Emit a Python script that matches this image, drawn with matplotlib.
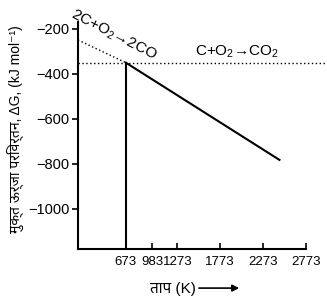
import matplotlib
matplotlib.use("Agg")
import matplotlib.pyplot as plt
from matplotlib import font_manager as fm
from matplotlib.ft2font import FT2Font

# ---- data ----
x_ticks = [673, 983, 1273, 1773, 2273, 2773]
y_ticks = [-200, -400, -600, -800, -1000]
y_tick_labels = ["−200", "−400", "−600", "−800", "−1000"]

co_x = [115, 673]          # 2C + O2 -> 2CO (dotted part)
co_y = [-249, -350]
co2_x = [115, 3000]        # C + O2 -> CO2 (dotted horizontal)
co2_y = [-350, -350]
solid_x = [673, 2463]      # solid line
solid_y = [-350, -782]
vert_x = [673, 673]
vert_y = [-350, -1178]

ylabel_text = "मुक्त ऊर्जा परिवर्तन, ΔG, (kJ mol⁻¹)"
xlabel_text = "ताप (K)"

need = set(ch for ch in ylabel_text + xlabel_text if 0x0900 <= ord(ch) <= 0x097F)
cands = {}
for f in fm.findSystemFonts():
    try:
        ft = FT2Font(f)
        cm = ft.get_charmap()
        if all(ord(c) in cm for c in need):
            name = fm.FontProperties(fname=f).get_name()
            if name not in cands:
                fm.fontManager.addfont(f)
                cands[name] = f
    except Exception:
        pass
pref = ['Noto Sans Devanagari', 'Hind', 'Mukta', 'Lohit Devanagari', 'FreeSans',
        'Yantramanav', 'Poppins', 'Sarala']
deva = None
for p in pref:
    if p in cands:
        deva = p
        break
if deva is None and cands:
    deva = sorted(cands, key=lambda n: ('Mono' in n, 'Unifont' in n, n))[0]

plt.rcParams['font.family'] = ['Liberation Sans', 'DejaVu Sans']
plt.rcParams['mathtext.fontset'] = 'custom'
plt.rcParams['mathtext.rm'] = 'Liberation Sans'
plt.rcParams['mathtext.it'] = 'Liberation Sans:italic'
lab_family = ['Liberation Sans'] + ([deva] if deva else []) + ['DejaVu Sans']

fig = plt.figure(figsize=(3.27, 2.97), dpi=100)
ax = fig.add_axes([0.2385, 0.1616, 0.936 - 0.2385, 0.926 - 0.1616])
ax.set_xlim(115, 2773)
ax.set_ylim(-1178, -169)

ax.plot(co_x, co_y, color='black', lw=1.0, ls=(0, (1, 1.8)))
ax.plot(co2_x, co2_y, color='black', lw=1.0, ls=(0, (1, 1.8)), clip_on=False)
ax.plot(solid_x, solid_y, color='black', lw=1.5)
ax.plot(vert_x, vert_y, color='black', lw=1.5)

for s in ['top', 'right']:
    ax.spines[s].set_visible(False)
for s in ['left', 'bottom']:
    ax.spines[s].set_linewidth(1.5)

ax.set_xticks(x_ticks)
ax.set_xticklabels([str(v) for v in x_ticks], fontsize=9.5,
                   family=['Liberation Sans Narrow', 'Liberation Sans'])
ax.set_yticks(y_ticks)
ax.set_yticklabels(y_tick_labels, fontsize=10.5)
ax.tick_params(axis='x', direction='in', length=4, width=1.2, pad=5)
ax.tick_params(axis='y', direction='out', length=4, width=1.2, pad=2)

ax.text(0.232, 0.98, "2C+O$_2$→2CO", transform=fig.transFigure, rotation=-27,
        ha='left', va='top', fontsize=11, rotation_mode='anchor')
fig.text(0.595, 0.825, "C+O$_2$→CO$_2$", fontsize=11, ha='left', va='center')

fig.text(0.047, 0.565, ylabel_text, rotation=90, fontsize=10, ha='center', va='center',
         family=lab_family)
fig.text(0.598, 0.027, xlabel_text, fontsize=11, ha='right', va='center', family=lab_family)
fig.add_artist(matplotlib.patches.FancyArrowPatch((0.60, 0.03), (0.74, 0.03),
               transform=fig.transFigure, arrowstyle='-|>', mutation_scale=10, lw=1.2,
               color='black'))

fig.savefig("out.png", dpi=100)
